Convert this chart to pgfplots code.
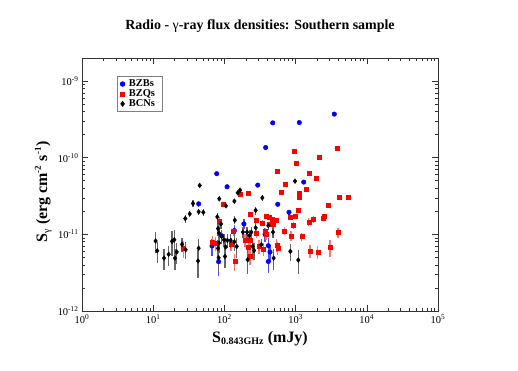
\documentclass[border=0pt]{standalone}
\usepackage{fontspec}
\setmainfont{Liberation Serif}
\usepackage{pgfplots}
\pgfplotsset{compat=1.18}
\usepackage{pgfplotstable}

% x = S_0.843GHz (mJy), y = S_gamma (erg cm^-2 s^-1), e = relative error
\pgfplotstableread{
x y e
477 2.85e-10 0.02
1127 2.88e-10 0.02
3497 3.71e-10 0.02
380 1.36e-10 0.03
294 4.39e-11 0.05
1300 4.81e-11 0.05
561 2.47e-11 0.08
808 1.94e-11 0.08
78 6.19e-11 0.05
109 4.18e-11 0.05
43.5 2.5e-11 0.08
188 1.37e-11 0.15
67 7.05e-12 0.25
83 4.4e-12 0.35
414 7.11e-12 0.25
414 4.43e-12 0.3
372 1.0e-11 0.2
91.6 9.6e-12 0.2
138 1.12e-11 0.2
437 5.88e-12 0.25
}\bzb

\pgfplotstableread{
x y e
26.8 6.6e-12 0.25
548 6.6e-11 0.03
1528 6.2e-11 0.03
1954 5.37e-11 0.03
726 4.48e-11 0.03
1414 3.9e-11 0.03
630 3.52e-11 0.03
1106 3.41e-11 0.03
1106 3.09e-11 0.03
166 3.31e-11 0.03
219 3.49e-11 0.03
95.5 2.47e-11 0.05
229 1.81e-11 0.08
1091 2.05e-11 0.05
843 1.66e-11 0.08
991 1.72e-11 0.08
388 1.72e-11 0.05
427 1.67e-11 0.05
471 1.59e-11 0.05
536 1.54e-11 0.05
84.8 1.48e-11 0.15
284 1.53e-11 0.08
345 1.41e-11 0.1
492 1.35e-11 0.08
420 1.35e-11 0.08
1795 1.56e-11 0.1
1528 1.44e-11 0.12
929 1.30e-11 0.1
135 1.09e-11 0.12
284 1.04e-11 0.15
375 1.09e-11 0.12
694 1.11e-11 0.12
861 9.5e-12 0.15
1218 9.33e-12 0.12
195 8.45e-12 0.2
229 8.35e-12 0.2
68.5 8.0e-12 0.2
75.5 7.6e-12 0.2
124 7.55e-12 0.2
217 6.84e-12 0.2
306 6.96e-12 0.2
352 6.5e-12 0.2
543 7.26e-12 0.2
561 6.69e-12 0.2
1593 6.06e-12 0.2
2044 5.88e-12 0.2
3041 6.84e-12 0.25
229 5.26e-12 0.25
140 4.48e-12 0.25
959 1.2e-10 0.02
3852 1.32e-10 0.02
1023 8.37e-11 0.02
2132 1.01e-10 0.02
4160 3.09e-11 0.03
5395 3.09e-11 0.03
2851 2.43e-11 0.05
2506 1.72e-11 0.08
2449 1.62e-11 0.08
384 1.0e-11 0.15
3942 1.06e-11 0.15
}\bzq

\pgfplotstableread{
x y e
10.8 8.2e-12 0.3
11.4 6.1e-12 0.3
14.2 4.9e-12 0.3
16.5 5.5e-12 0.3
18.4 8.1e-12 0.35
19.8 8.5e-12 0.35
21.4 5.9e-12 0.3
20.2 4.9e-12 0.3
25.4 7.4e-12 0.2
28.6 6.3e-12 0.25
43.5 6.6e-12 0.3
42.6 4.5e-12 0.4
45 4.35e-11 0.05
36.2 2.53e-11 0.1
43.5 1.97e-11 0.1
50.6 1.94e-11 0.1
32.6 1.85e-11 0.1
28.2 1.61e-11 0.12
981 4.95e-11 0.03
154 3.49e-11 0.05
166 3.77e-11 0.05
341 3.0e-11 0.08
84.8 2.91e-11 0.05
138 2.71e-11 0.05
105 2.36e-11 0.05
275 2.06e-11 0.12
79.5 1.69e-11 0.12
140 1.53e-11 0.12
89.6 1.37e-11 0.15
275 1.22e-11 0.15
81.3 1.19e-11 0.2
182 1.07e-11 0.15
208 1.07e-11 0.15
239 1.07e-11 0.15
482 1.07e-11 0.15
414 1.30e-11 0.12
84 1.04e-11 0.2
91.6 9.4e-12 0.2
98.7 8.45e-12 0.2
110 8.35e-12 0.2
122.5 8.35e-12 0.2
138 8.0e-12 0.25
224 9.6e-12 0.2
84 7.7e-12 0.25
104 6.84e-12 0.3
149 6.96e-12 0.3
250 6.96e-12 0.25
330 7.33e-12 0.2
81.3 6.56e-12 0.3
843 6.0e-12 0.25
102 5.15e-12 0.3
83 4.95e-12 0.35
212 4.66e-12 0.35
492 4.91e-12 0.3
1091 4.62e-12 0.35
261 6.17e-12 0.25
}\bcn

\begin{document}
\begin{tikzpicture}
\path (-82bp,-60bp) rectangle (436bp,311bp);
\begin{axis}[
    at={(0,0)}, anchor=south west,
    scale only axis,
    width=356bp, height=253bp,
    xmode=log, ymode=log,
    xmin=1, xmax=1e5,
    ymin=1e-12, ymax=2e-9,
    xtick={1,10,100,1000,10000,100000},
    xticklabels={10\textsuperscript{0},10\textsuperscript{1},10\textsuperscript{2},10\textsuperscript{3},10\textsuperscript{4},10\textsuperscript{5}},
    ytick={1e-12,1e-11,1e-10,1e-9},
    yticklabels={10\textsuperscript{-12},10\textsuperscript{-11},10\textsuperscript{-10},10\textsuperscript{-9}},
    tick label style={font=\fontsize{10.5}{12}\selectfont},
    major tick length=6bp, minor tick length=3bp,
    tick style={black!80, line width=0.6bp},
    axis line style={black!80, line width=0.9bp},
    title={Radio - {\mdseries γ}-ray flux densities: Southern sample},
    title style={font=\fontsize{14}{16}\selectfont\bfseries, at={(axis description cs:0.5,1.091)}, anchor=base},
    xlabel={S\textsubscript{\fontsize{10}{10}\selectfont 0.843GHz} (mJy)},
    xlabel style={font=\fontsize{16}{18}\selectfont\bfseries, at={(axis description cs:0.5,-0.1225)}, anchor=base},
    ylabel={S\textsubscript{\fontsize{10}{10}\selectfont\mdseries γ} (erg cm\textsuperscript{\fontsize{9}{9}\selectfont -2} s\textsuperscript{\fontsize{9}{9}\selectfont -1})},
    ylabel style={font=\fontsize{16}{18}\selectfont\bfseries, at={(axis description cs:-0.0983,0.47)}, anchor=base},
    legend style={at={(axis description cs:0.098,0.929)}, anchor=north west, draw=gray, line width=0.8bp,
        font=\fontsize{10.5}{11}\selectfont\bfseries, row sep=-2.5bp, inner xsep=3bp, inner ysep=1.5bp,
        nodes={inner xsep=4bp}},
    legend image code/.code={\draw[#1] plot coordinates {(0.2cm,0cm)};},
    legend cell align=left,
    error bars/y dir=both,
    error bars/y explicit relative,
    error bars/error mark=none,
]
\addplot[only marks, mark=*, mark size=2.3bp, color=blue,
    error bars/error bar style={blue!70, line width=1.2bp}]
    table[x=x, y=y, y error=e] {\bzb};
\addlegendentry{BZBs}
\addplot[only marks, mark=square*, mark size=2bp, color=red,
    error bars/error bar style={red!55, line width=1.2bp}]
    table[x=x, y=y, y error=e] {\bzq};
\addlegendentry{BZQs}
\addplot[only marks, mark=diamond*, mark size=2.4bp, color=black,
    error bars/error bar style={black!60, line width=1.2bp}]
    table[x=x, y=y, y error=e] {\bcn};
\addlegendentry{BCNs}
\end{axis}
\end{tikzpicture}
\end{document}
